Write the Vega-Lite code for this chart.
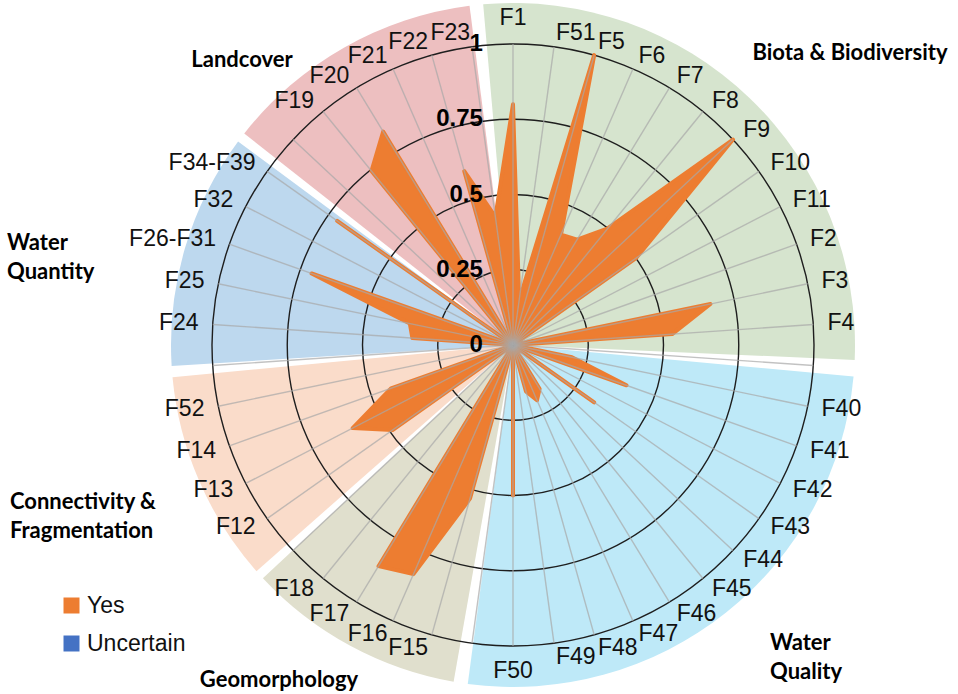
{
  "$schema": "https://vega.github.io/schema/vega-lite/v6.json",
  "width": 958,
  "height": 694,
  "padding": 0,
  "autosize": {"type": "none"},
  "background": "white",
  "config": {"view": {"stroke": null}},
  "datasets": {
    "factors": [
      {"slot": 0, "label": "F1", "value": 0.80, "series": "Yes"},
      {"slot": 1, "label": "F51", "value": 0.15, "series": "Yes"},
      {"slot": 2, "label": "F5", "value": 1.0, "series": "Yes"},
      {"slot": 3, "label": "F6", "value": 0.40, "series": "Yes"},
      {"slot": 4, "label": "F7", "value": 0.41, "series": "Yes"},
      {"slot": 5, "label": "F8", "value": 0.50, "series": "Yes"},
      {"slot": 6, "label": "F9", "value": 1.0, "series": "Yes"},
      {"slot": 7, "label": "F10", "value": 0.50, "series": "Yes"},
      {"slot": 8, "label": "F11", "value": 0, "series": "Yes"},
      {"slot": 9, "label": "F2", "value": 0, "series": "Yes"},
      {"slot": 10, "label": "F3", "value": 0.67, "series": "Yes"},
      {"slot": 11, "label": "F4", "value": 0.53, "series": "Yes"},
      {"slot": 12, "label": "", "value": 0, "series": "Yes"},
      {"slot": 13, "label": "F40", "value": 0.20, "series": "Yes"},
      {"slot": 14, "label": "F41", "value": 0.40, "series": "Yes"},
      {"slot": 15, "label": "F42", "value": 0, "series": "Yes"},
      {"slot": 16, "label": "F43", "value": 0.33, "series": "Yes"},
      {"slot": 17, "label": "F44", "value": 0, "series": "Yes"},
      {"slot": 18, "label": "F45", "value": 0, "series": "Yes"},
      {"slot": 19, "label": "F46", "value": 0.17, "series": "Yes"},
      {"slot": 20, "label": "F47", "value": 0.20, "series": "Yes"},
      {"slot": 21, "label": "F48", "value": 0.16, "series": "Yes"},
      {"slot": 22, "label": "F49", "value": 0, "series": "Yes"},
      {"slot": 23, "label": "F50", "value": 0.50, "series": "Yes"},
      {"slot": 24, "label": "", "value": 0, "series": "Yes"},
      {"slot": 25, "label": "F15", "value": 0.53, "series": "Yes"},
      {"slot": 26, "label": "F16", "value": 0.83, "series": "Yes"},
      {"slot": 27, "label": "F17", "value": 0.86, "series": "Yes"},
      {"slot": 28, "label": "F18", "value": 0, "series": "Yes"},
      {"slot": 29, "label": "", "value": 0, "series": "Yes"},
      {"slot": 30, "label": "F12", "value": 0.49, "series": "Yes"},
      {"slot": 31, "label": "F13", "value": 0.60, "series": "Yes"},
      {"slot": 32, "label": "F14", "value": 0.43, "series": "Yes"},
      {"slot": 33, "label": "F52", "value": 0, "series": "Yes"},
      {"slot": 34, "label": "", "value": 0, "series": "Yes"},
      {"slot": 35, "label": "F24", "value": 0.335, "series": "Yes"},
      {"slot": 36, "label": "F25", "value": 0.35, "series": "Yes"},
      {"slot": 37, "label": "F26-F31", "value": 0.71, "series": "Yes"},
      {"slot": 38, "label": "F32", "value": 0, "series": "Yes"},
      {"slot": 39, "label": "F34-F39", "value": 0.715, "series": "Yes"},
      {"slot": 40, "label": "", "value": 0, "series": "Yes"},
      {"slot": 41, "label": "F19", "value": 0.745, "series": "Yes"},
      {"slot": 42, "label": "F20", "value": 0.83, "series": "Yes"},
      {"slot": 43, "label": "F21", "value": 0, "series": "Yes"},
      {"slot": 44, "label": "F22", "value": 0.60, "series": "Yes"},
      {"slot": 45, "label": "F23", "value": 0.43, "series": "Yes"}
    ],
    "sectors": [
      {"group": "Biota & Biodiversity", "start": -5.0, "end": 92.5},
      {"group": "Water Quality", "start": 95.3, "end": 187.6},
      {"group": "Geomorphology", "start": 190.0, "end": 227.0},
      {"group": "Connectivity & Fragmentation", "start": 228.6, "end": 264.6},
      {"group": "Water Quantity", "start": 266.5, "end": 306.5},
      {"group": "Landcover", "start": 308.2, "end": 352.7}
    ],
    "rings": [
      {"r": 0.25}, {"r": 0.5}, {"r": 0.75}, {"r": 1}
    ],
    "ticks": [
      {"v": 0, "t": "0"}, {"v": 0.25, "t": "0.25"}, {"v": 0.5, "t": "0.5"}, {"v": 0.75, "t": "0.75"}, {"v": 1, "t": "1"}
    ],
    "one": [{}]
  },
  "layer": [
    {
      "data": {"name": "sectors"},
      "mark": {"type": "arc", "radius": 342},
      "encoding": {
        "x": {"datum": 0, "type": "quantitative", "scale": {"domain": [-1.7043, 1.4784], "nice": false, "zero": false}, "axis": null},
        "y": {"datum": 0, "type": "quantitative", "scale": {"domain": [-1.1595, 1.1462], "nice": false, "zero": false}, "axis": null},
        "theta": {"field": "start", "type": "quantitative", "stack": null, "scale": {"domain": [0, 360], "range": [0, 6.283185307179586]}},
        "theta2": {"field": "end"},
        "color": {"field": "group", "type": "nominal", "legend": null,
          "scale": {"domain": ["Biota & Biodiversity", "Water Quality", "Geomorphology", "Connectivity & Fragmentation", "Water Quantity", "Landcover"],
                    "range": ["#D6E4CE", "#BEE9F8", "#E0DFCD", "#FADCCA", "#BDD8EE", "#EDBFC0"]}}
      }
    },
    {
      "data": {"name": "rings"},
      "mark": {"type": "point", "shape": "circle", "filled": false, "stroke": "#1E1E1E", "strokeWidth": 1.4, "opacity": 1},
      "encoding": {
        "x": {"datum": 0, "type": "quantitative"},
        "y": {"datum": 0, "type": "quantitative"},
        "size": {"field": "r", "type": "quantitative", "legend": null,
          "scale": {"type": "pow", "exponent": 2, "domain": [0, 1], "range": [0, 362404], "zero": true}}
      }
    },
    {
      "data": {"name": "factors"},
      "transform": [
        {"calculate": "datum.slot * 2 * PI / 46", "as": "ang"},
        {"calculate": "sin(datum.ang)", "as": "ex"},
        {"calculate": "cos(datum.ang)", "as": "ey"},
        {"calculate": "datum.value * datum.ex", "as": "px"},
        {"calculate": "datum.value * datum.ey", "as": "py"},
        {"calculate": "1.047 * datum.ex", "as": "lx"},
        {"calculate": "1.047 * datum.ey", "as": "ly"}
      ],
      "layer": [
        {
          "mark": {"type": "line", "interpolate": "linear-closed", "stroke": "#ED7D31", "strokeWidth": 4, "strokeJoin": "round", "strokeCap": "round"},
          "encoding": {
            "x": {"field": "px", "type": "quantitative"},
            "y": {"field": "py", "type": "quantitative"},
            "order": {"field": "slot", "type": "quantitative"},
            "fill": {"field": "series", "type": "nominal",
              "scale": {"domain": ["Yes", "Uncertain"], "range": ["#ED7D31", "#4472C4"]},
              "legend": {"title": null, "orient": "none", "legendX": 60, "legendY": 594, "padding": 0,
                "symbolType": "square", "symbolSize": 256, "symbolStrokeWidth": 0,
                "labelFont": "Liberation Sans", "labelFontSize": 23, "labelColor": "#111", "labelOffset": 4,
                "rowPadding": 14,
                "encode": {"symbols": {"update": {"size": {"signal": "datum.value == 'Yes' ? 256 : 144"}}}}}}
          }
        },
        {
          "mark": {"type": "rule", "stroke": "#A8A8A8", "strokeWidth": 1.4, "opacity": 0.7},
          "encoding": {
            "x": {"field": "ex", "type": "quantitative"},
            "y": {"field": "ey", "type": "quantitative"},
            "x2": {"datum": 0},
            "y2": {"datum": 0}
          }
        },
        {
          "transform": [{"filter": "datum.label != ''"}],
          "mark": {"type": "text", "font": "Liberation Sans", "fontSize": 23, "fill": "#111",
            "align": {"expr": "datum.slot == 0 || datum.slot == 23 ? 'center' : (datum.slot < 23 ? 'left' : 'right')"},
            "baseline": {"expr": "datum.slot == 0 ? 'bottom' : (datum.slot == 23 ? 'top' : 'middle')"}},
          "encoding": {
            "x": {"field": "lx", "type": "quantitative"},
            "y": {"field": "ly", "type": "quantitative"},
            "text": {"field": "label"}
          }
        }
      ]
    },
    {
      "data": {"name": "ticks"},
      "mark": {"type": "text", "font": "Liberation Sans", "fontSize": 24, "fontWeight": "bold", "fill": "#000", "align": "right", "baseline": "middle"},
      "encoding": {
        "x": {"datum": -0.1, "type": "quantitative"},
        "y": {"field": "v", "type": "quantitative"},
        "text": {"field": "t"}
      }
    },
    {
      "data": {"name": "one"},
      "mark": {"type": "text", "text": "Biota & Biodiversity", "font": "Lato", "fontSize": 22, "fontWeight": "bold", "fill": "#000", "align": "center", "baseline": "middle"},
      "encoding": {"x": {"datum": 1.1196, "type": "quantitative"}, "y": {"datum": 0.970, "type": "quantitative"}}
    },
    {
      "data": {"name": "one"},
      "mark": {"type": "text", "text": "Landcover", "font": "Lato", "fontSize": 22, "fontWeight": "bold", "fill": "#000", "align": "center", "baseline": "middle"},
      "encoding": {"x": {"datum": -0.9003, "type": "quantitative"}, "y": {"datum": 0.9468, "type": "quantitative"}}
    },
    {
      "data": {"name": "one"},
      "mark": {"type": "text", "text": ["Water", "Quantity"], "lineHeight": 29, "font": "Lato", "fontSize": 22, "fontWeight": "bold", "fill": "#000", "align": "left", "baseline": "middle"},
      "encoding": {"x": {"datum": -1.681, "type": "quantitative"}, "y": {"datum": 0.3389, "type": "quantitative"}}
    },
    {
      "data": {"name": "one"},
      "mark": {"type": "text", "text": ["Connectivity &", "Fragmentation"], "lineHeight": 29, "font": "Lato", "fontSize": 22, "fontWeight": "bold", "fill": "#000", "align": "left", "baseline": "middle"},
      "encoding": {"x": {"datum": -1.6711, "type": "quantitative"}, "y": {"datum": -0.5206, "type": "quantitative"}}
    },
    {
      "data": {"name": "one"},
      "mark": {"type": "text", "text": "Geomorphology", "font": "Lato", "fontSize": 22, "fontWeight": "bold", "fill": "#000", "align": "center", "baseline": "middle"},
      "encoding": {"x": {"datum": -0.7774, "type": "quantitative"}, "y": {"datum": -1.113, "type": "quantitative"}}
    },
    {
      "data": {"name": "one"},
      "mark": {"type": "text", "text": ["Water", "Quality"], "lineHeight": 29, "font": "Lato", "fontSize": 22, "fontWeight": "bold", "fill": "#000", "align": "left", "baseline": "middle"},
      "encoding": {"x": {"datum": 0.8538, "type": "quantitative"}, "y": {"datum": -0.989, "type": "quantitative"}}
    }
  ]
}
